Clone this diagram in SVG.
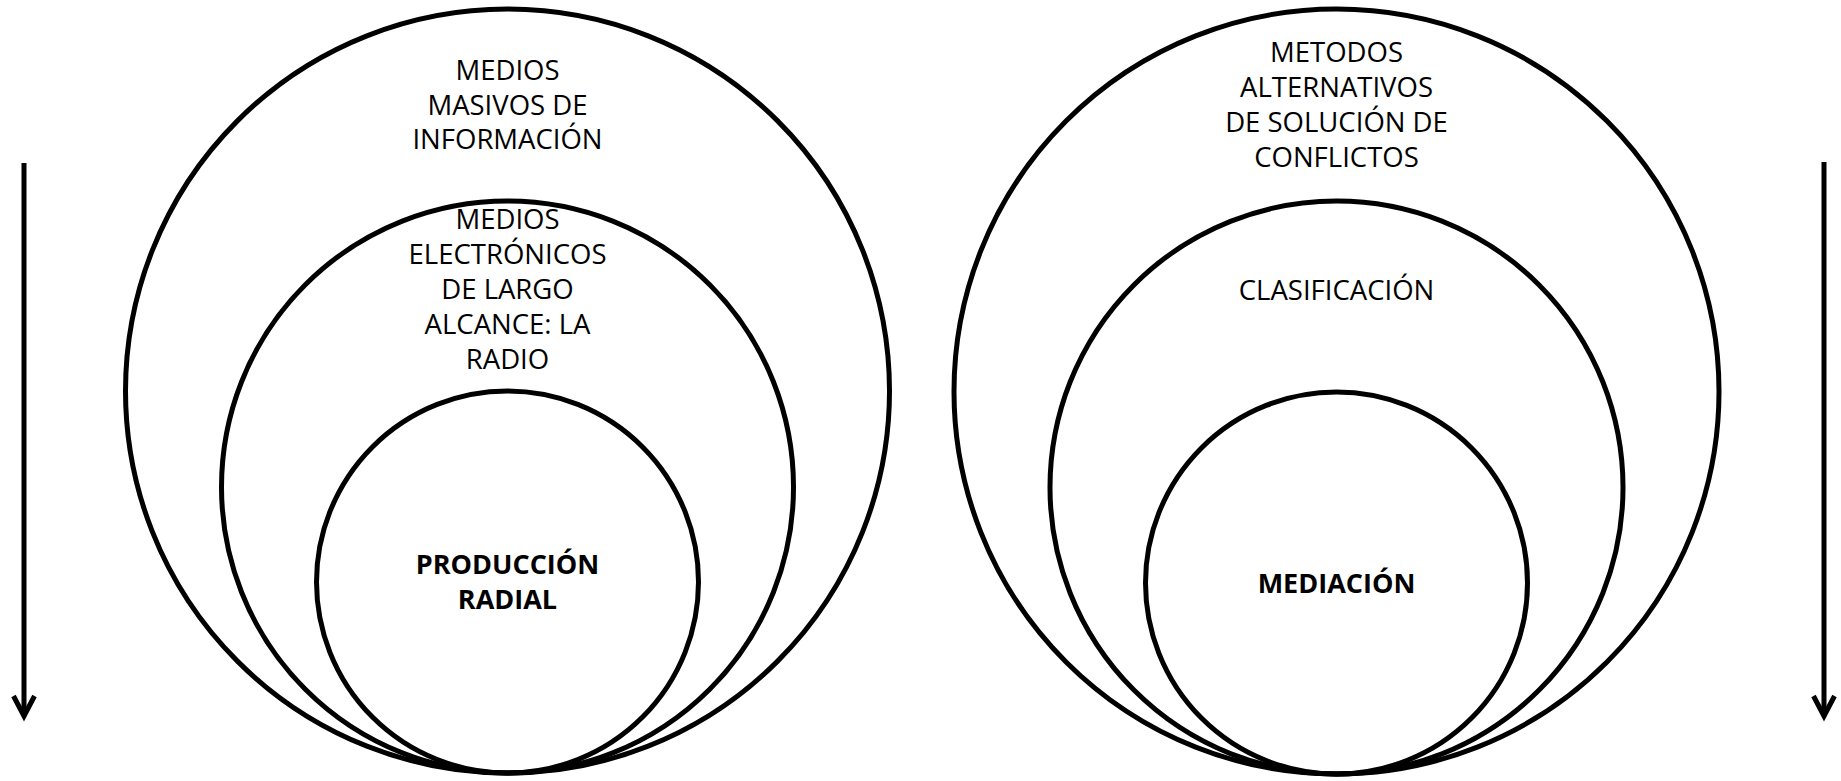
<svg xmlns="http://www.w3.org/2000/svg" width="1841" height="781" viewBox="0 0 1841 781">
<style>
.c{fill:none;stroke:#000;stroke-width:5}
.t{font-family:"Open Sans","Noto Sans","Liberation Sans",sans-serif;font-size:27.5px;fill:#000;text-anchor:middle}
.b{font-weight:bold;font-size:27px}
.a{fill:none;stroke:#000;stroke-width:5}
</style>
<rect width="1841" height="781" fill="#fff"/>
<g id="medios-masivos">
<circle class="c" cx="507.5" cy="391" r="382"/>
<text class="t" x="507.5" y="80">MEDIOS</text>
<text class="t" x="507.5" y="114.5">MASIVOS DE</text>
<text class="t" x="507.5" y="149">INFORMACIÓN</text>
</g>
<g id="medios-electronicos">
<circle class="c" cx="507.5" cy="487" r="286"/>
<text class="t" x="507.5" y="228.5">MEDIOS</text>
<text class="t" x="507.5" y="263.5">ELECTRÓNICOS</text>
<text class="t" x="507.5" y="298.5">DE LARGO</text>
<text class="t" x="507.5" y="333.5">ALCANCE: LA</text>
<text class="t" x="507.5" y="368.5">RADIO</text>
</g>
<g id="produccion-radial">
<circle class="c" cx="507.5" cy="582" r="191"/>
<text class="t b" x="507.5" y="573.5">PRODUCCIÓN</text>
<text class="t b" x="507.5" y="608.5">RADIAL</text>
</g>
<g id="metodos-alternativos">
<circle class="c" cx="1336.5" cy="391.5" r="382.5"/>
<text class="t" x="1336.5" y="62">METODOS</text>
<text class="t" x="1336.5" y="97">ALTERNATIVOS</text>
<text class="t" x="1336.5" y="132">DE SOLUCIÓN DE</text>
<text class="t" x="1336.5" y="167">CONFLICTOS</text>
</g>
<g id="clasificacion">
<circle class="c" cx="1336.5" cy="487.5" r="286.5"/>
<text class="t" x="1336.5" y="300">CLASIFICACIÓN</text>
</g>
<g id="mediacion">
<circle class="c" cx="1336.5" cy="583" r="191"/>
<text class="t b" x="1336.5" y="592.5">MEDIACIÓN</text>
</g>
<g id="connectors">
<line class="a" x1="24" y1="163" x2="24" y2="715"/>
<polyline class="a" points="13.5,696 24,716 34.5,696"/>
<line class="a" x1="1824" y1="162" x2="1824" y2="715"/>
<polyline class="a" points="1813.5,696 1824,716 1834.5,696"/>
</g>
</svg>
